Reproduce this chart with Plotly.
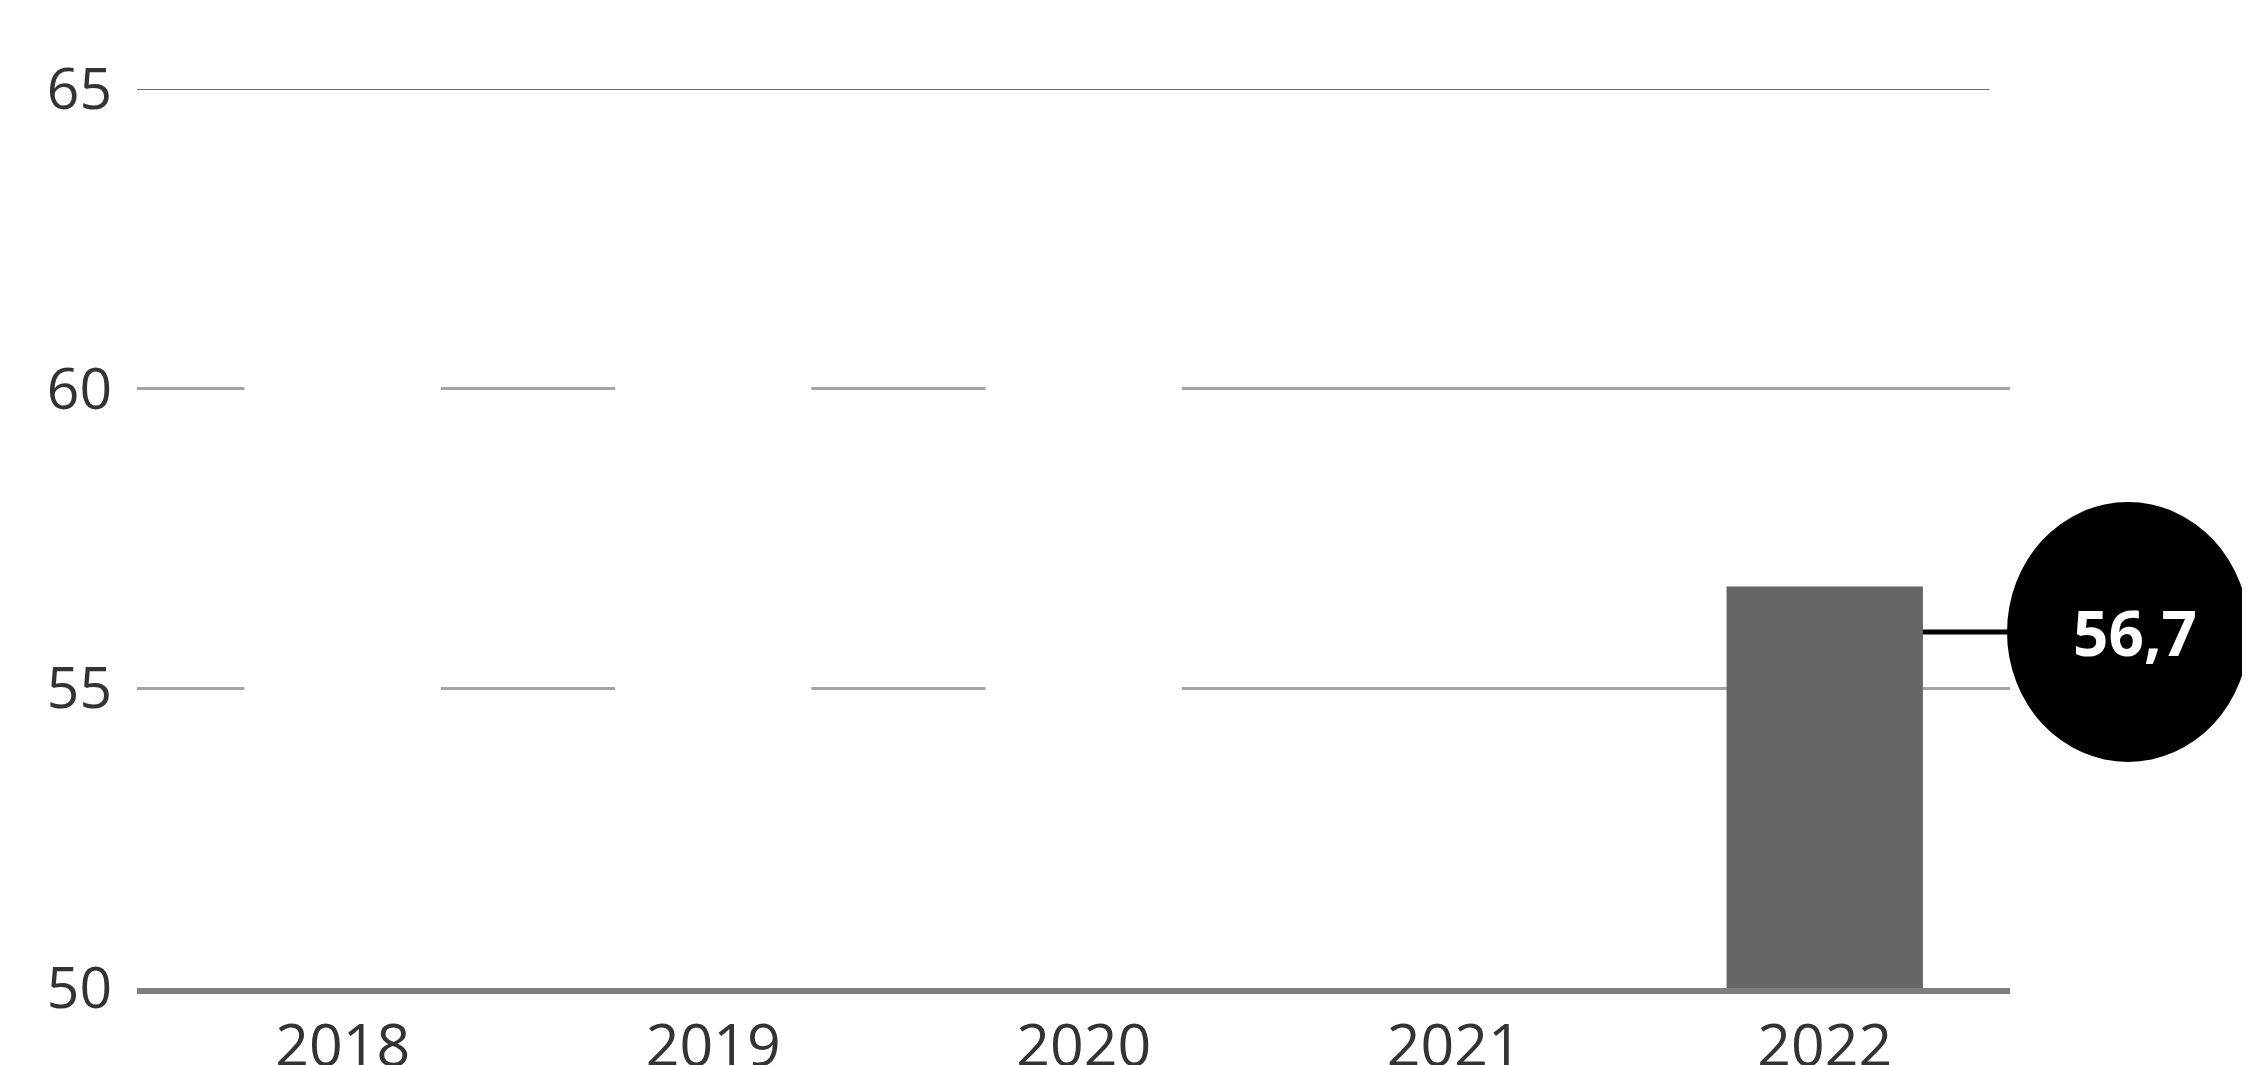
import plotly.graph_objects as go

years = ["2018", "2019", "2020", "2021", "2022"]
values = [62.0, 61.5, 61.0, 52.0, 56.7]
value_labels = ["62,0", "61,5", "61,0", "52,0", "56,7"]
y_ticks = [50, 55, 60, 65]

bar_colors = ["#ffffff", "#ffffff", "#ffffff", "#ffffff", "#666666"]
bar_width = 0.53

fig = go.Figure()
fig.add_trace(go.Bar(
    x=years, y=values,
    marker=dict(color=bar_colors, line_width=0),
    width=bar_width,
    hoverinfo="skip",
))

last_i = len(years) - 1
anchor_y = values[last_i] - 0.76
circle_x = 1.063

# top reference line (darker than the others)
fig.add_shape(type="line", xref="paper", yref="y", x0=0, x1=0.989,
              y0=y_ticks[-1], y1=y_ticks[-1],
              line=dict(color="#6a6a6a", width=2), layer="below")
# connector line from highlighted bar to bubble
fig.add_shape(type="line", xref="x", yref="y",
              x0=last_i + bar_width / 2, x1=last_i + 0.5,
              y0=anchor_y, y1=anchor_y,
              line=dict(color="#000000", width=5), layer="above")
# bubble
fig.add_shape(type="circle", xref="paper", yref="y",
              xsizemode="pixel", ysizemode="pixel",
              xanchor=circle_x, yanchor=anchor_y,
              x0=-121, x1=121, y0=-130, y1=130,
              fillcolor="#000000", line=dict(color="#000000", width=0),
              layer="above")
fig.add_annotation(xref="paper", yref="y", x=circle_x + 0.004, y=anchor_y,
                   xanchor="center", yanchor="middle",
                   text="<b>" + value_labels[last_i] + "</b>", showarrow=False,
                   font=dict(family="Open Sans", size=62, color="#ffffff"))

fig.update_layout(
    width=2250, height=1065,
    margin=dict(l=129, r=248, t=81, b=85),
    paper_bgcolor="#ffffff", plot_bgcolor="#ffffff",
    showlegend=False,
    bargap=0.47,
    font=dict(family="Open Sans", color="#333333"),
)
fig.update_yaxes(
    range=[50, 65], tickvals=y_ticks, ticktext=[str(t) for t in y_ticks],
    showgrid=True, gridcolor="#a4a4a4", gridwidth=3,
    zeroline=False, showline=False,
    tickfont=dict(size=57, color="#333333"),
    ticklabelstandoff=24, automargin=False,
)
fig.update_xaxes(
    range=[-0.555, 4.5],
    showgrid=False, showline=True, linecolor="#7e7e7e", linewidth=6,
    tickfont=dict(size=59, color="#333333"),
    ticklabelstandoff=1, automargin=False,
)

fig.write_html("out.html")
